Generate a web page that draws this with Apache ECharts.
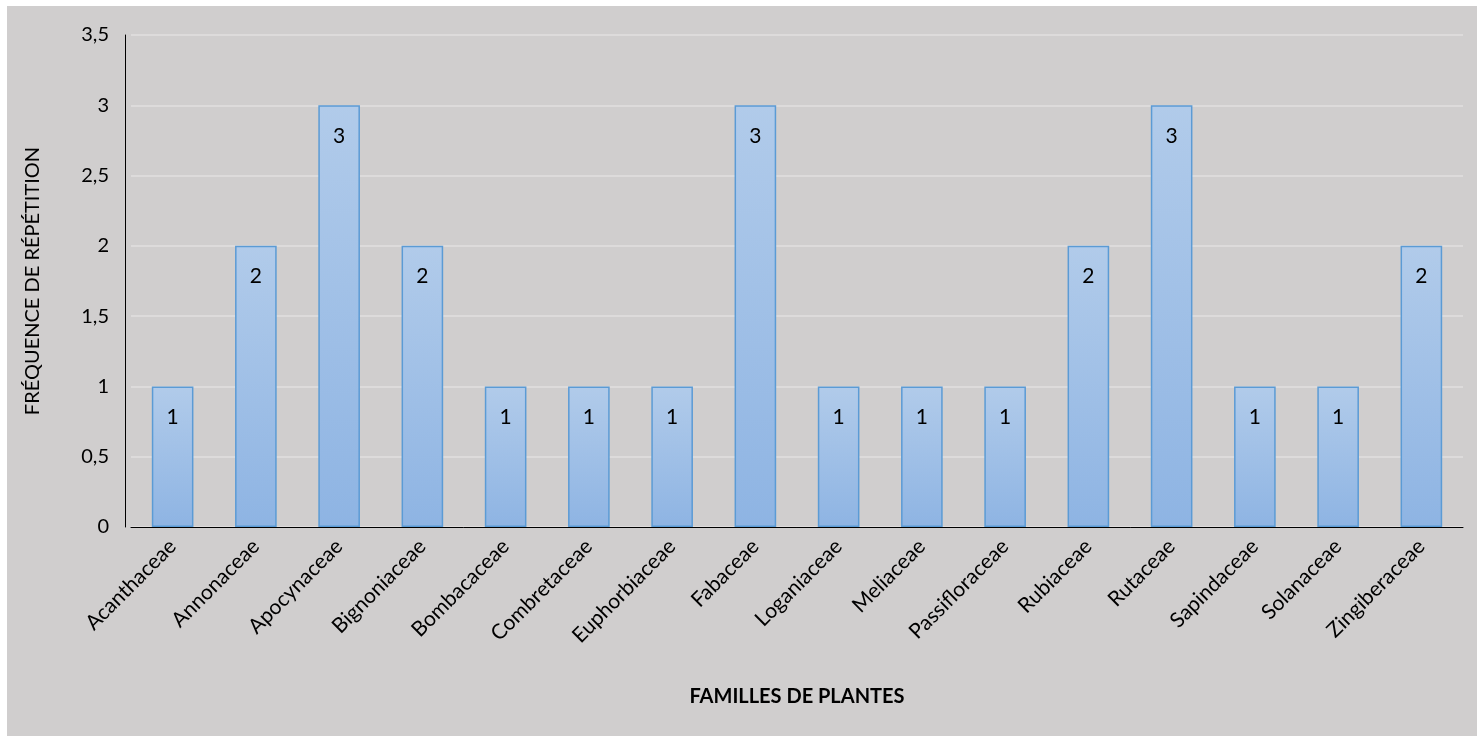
<!DOCTYPE html>
<html><head><meta charset="utf-8">
<script src="https://cdn.jsdelivr.net/npm/echarts@6/dist/echarts.min.js"></script>
<style>
html,body{margin:0;padding:0;background:#fff;}
#c{position:absolute;left:7px;top:6px;width:1470px;height:730px;}
</style></head><body>
<div id="c"></div>
<script>
const categories = ["Acanthaceae","Annonaceae","Apocynaceae","Bignoniaceae","Bombacaceae","Combretaceae","Euphorbiaceae","Fabaceae","Loganiaceae","Meliaceae","Passifloraceae","Rubiaceae","Rutaceae","Sapindaceae","Solanaceae","Zingiberaceae"];
const frequencies = [1,2,3,2,1,1,1,3,1,1,1,2,3,1,1,2];
const yTicks = [0,0.5,1,1.5,2,2.5,3,3.5];

const chart = echarts.init(document.getElementById('c'));
const font = 'Lato, "Open Sans", sans-serif';
chart.setOption({
  backgroundColor: '#d0cece',
  animation: false,
  grid: {left:124, right:14, top:29, bottom:209, containLabel:false},
  xAxis: {
    type:'category', data: categories,
    axisLine:{lineStyle:{color:'#000', width:1}},
    axisTick:{show:false},
    axisLabel:{rotate:45, color:'#000', fontSize:21, fontFamily:font, margin:16, interval:0},
    name:'FAMILLES DE PLANTES', nameLocation:'middle', nameGap:160,
    nameTextStyle:{color:'#000', fontSize:20, fontWeight:'bold', fontFamily:font}
  },
  yAxis: {
    type:'value', min:yTicks[0], max:yTicks[yTicks.length-1], interval:0.5,
    offset:6,
    axisLine:{show:true, lineStyle:{color:'#000', width:1}},
    axisTick:{show:false},
    splitLine:{lineStyle:{color:'#dddbdb', width:2}},
    axisLabel:{color:'#000', fontSize:20, fontFamily:font, margin:16,
      formatter: v => String(v).replace('.', ',')},
    name:'FRÉQUENCE DE RÉPÉTITION', nameLocation:'middle', nameGap:82, nameRotate:90,
    nameTextStyle:{color:'#000', fontSize:20, fontFamily:font}
  },
  series: [{
    type:'bar', data: frequencies, barWidth:'50%',
    itemStyle:{
      color: new echarts.graphic.LinearGradient(0,0,0,1,[{offset:0,color:'#b1cbea'},{offset:1,color:'#8eb4e3'}]),
      borderColor:'#5b9bd5', borderWidth:1.5
    },
    label:{show:true, position:'insideTop', distance:20, color:'#000', fontSize:21, fontFamily:font}
  }]
});
</script></body></html>
